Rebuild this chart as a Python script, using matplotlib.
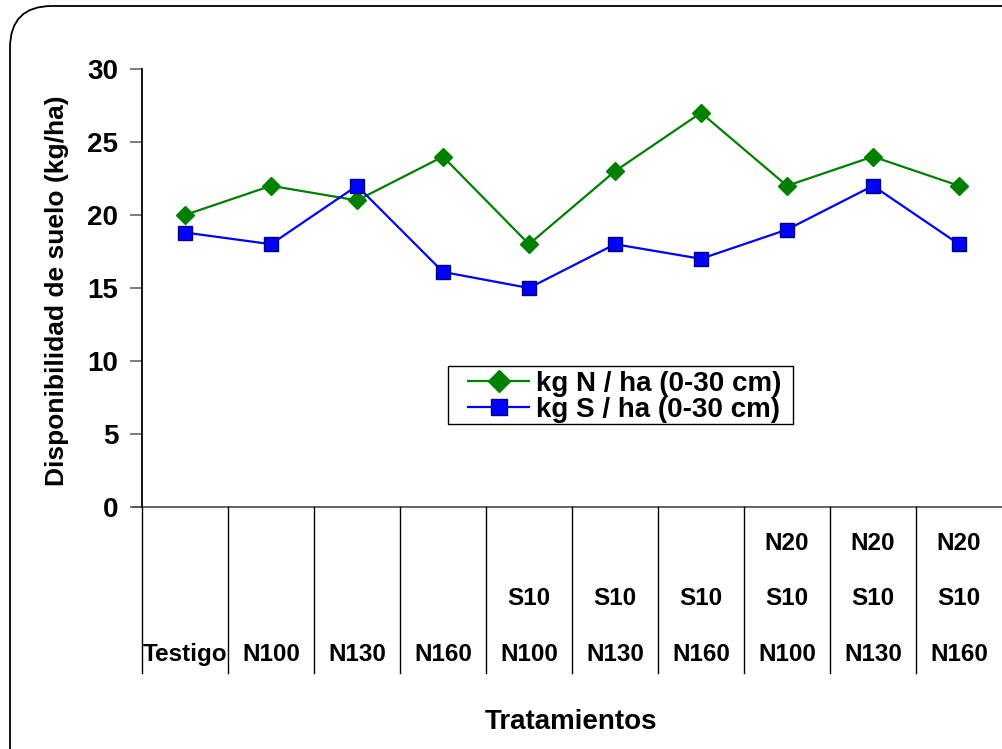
import numpy as np
import matplotlib
matplotlib.use("Agg")
import matplotlib.pyplot as plt
from matplotlib.patches import FancyBboxPatch, Rectangle

# data
row_top = ["", "", "", "", "", "", "", "N20", "N20", "N20"]
row_mid = ["", "", "", "", "S10", "S10", "S10", "S10", "S10", "S10"]
row_bot = ["Testigo", "N100", "N130", "N160", "N100", "N130", "N160", "N100", "N130", "N160"]
kg_n = [20, 22, 21, 24, 18, 23, 27, 22, 24, 22]
kg_s = [18.8, 18, 22, 16.1, 15, 18, 17, 19, 22, 18]
yticks = [0, 5, 10, 15, 20, 25, 30]

plt.rcParams['font.family'] = ['Liberation Sans', 'DejaVu Sans']
plt.rcParams['font.weight'] = 'bold'

W, H = 1002, 749
fig = plt.figure(figsize=(W / 100, H / 100), dpi=100)

# background axes for the rounded frame, in pixel units
bg = fig.add_axes([0, 0, 1, 1], zorder=-1)
bg.set_xlim(0, W)
bg.set_ylim(0, H)
bg.axis('off')
bg.add_patch(FancyBboxPatch((10, -100), 1200, 843, boxstyle="round,pad=0,rounding_size=42",
                            fc='white', ec='black', lw=1.3))
# legend box
bg.add_patch(Rectangle((448, H - 424), 345, 58, fc='white', ec='black', lw=1.0))

ax = fig.add_axes([142 / W, 1 - 507 / H, (1002 - 142) / W, (507 - 69) / H])
ax.set_facecolor('none')

n = len(kg_n)
x = np.arange(n) + 0.5
ax.plot(x, kg_n, color='#008000', lw=1.6, marker='D', ms=9, mfc='#008000', mec='#008000',
        label='kg N / ha (0-30 cm)', clip_on=False, zorder=3)
ax.plot(x, kg_s, color='#0000FF', lw=1.6, marker='s', ms=10, mfc='#0000FF', mec='#000080',
        mew=1.0, label='kg S / ha (0-30 cm)', clip_on=False, zorder=4)

ax.set_xlim(0, n)
ax.set_ylim(0, 30)
ax.set_yticks(yticks)
ax.set_yticklabels([str(t) for t in yticks], fontsize=20, fontweight='bold')
ax.tick_params(axis='y', length=9, width=1.2, color='#666666', pad=8)
ax.set_xticks([])
for s in ['top', 'right', 'bottom']:
    ax.spines[s].set_visible(False)
ax.spines['left'].set_linewidth(1.3)

# category table below the axis
ybot = -11.4
ax.plot([-0.1, n], [0, 0], color='#555555', lw=1.3, clip_on=False)
for k in range(n):
    ax.plot([k, k], [0, ybot], color='black', lw=1.0, clip_on=False)
for xi, t, m, b in zip(x, row_top, row_mid, row_bot):
    ax.text(xi, -2.47, t, ha='center', va='center', fontsize=17.5, fontweight='bold')
    ax.text(xi, -6.3, m, ha='center', va='center', fontsize=17.5, fontweight='bold')
    ax.text(xi, -10.1, b, ha='center', va='center', fontsize=17.5, fontweight='bold')

fig.text(571 / W, 1 - 722 / H, 'Tratamientos', ha='center', va='center', fontsize=20, fontweight='bold')
fig.text(57 / W, 1 - 291 / H, 'Disponibilidad de suelo (kg/ha)', ha='center', va='center',
         rotation=90, fontsize=19, fontweight='bold')

leg = ax.legend(loc='upper left', bbox_to_anchor=(468 / W, 1 - 371 / H),
                bbox_transform=fig.transFigure,
                fontsize=20, frameon=False,
                handlelength=2.2, handletextpad=0.25, labelspacing=0.0, borderpad=0,
                borderaxespad=0, markerscale=1.2)
for t in leg.get_texts():
    t.set_fontweight('bold')

fig.savefig('out.png', dpi=100)
